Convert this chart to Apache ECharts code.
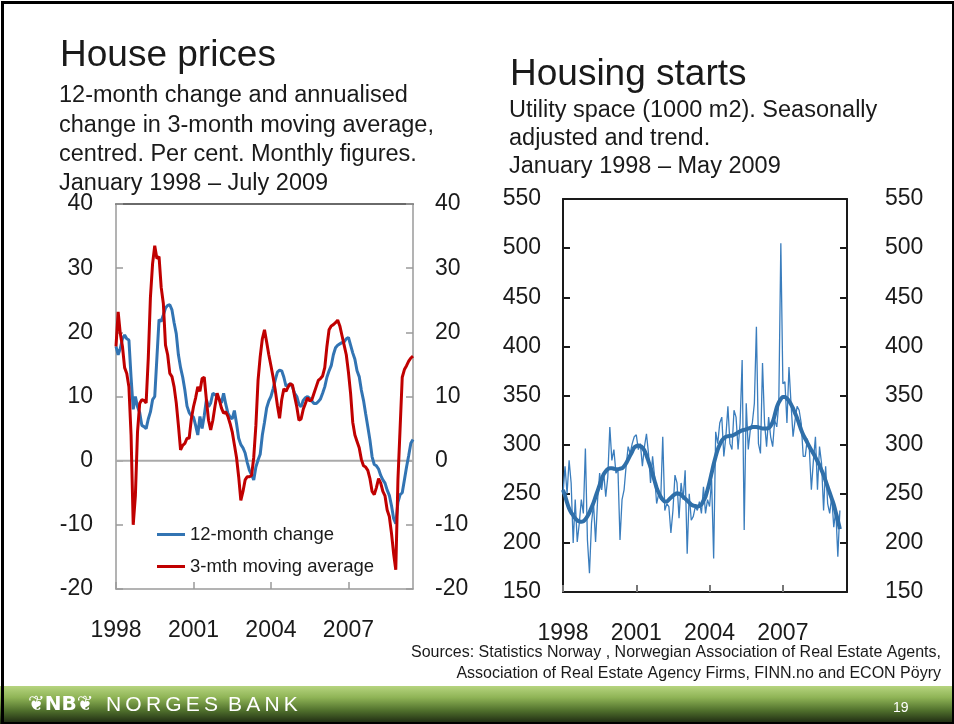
<!DOCTYPE html>
<html>
<head>
<meta charset="utf-8">
<script src="https://cdn.jsdelivr.net/npm/echarts@6/dist/echarts.min.js"></script>
<style>
html,body{margin:0;padding:0;background:#fff;}
#c{width:954px;height:724px;}
</style>
</head>
<body>
<div id="c"></div>
<script>
// ---- Data ----
const yearLabels = ['1998', '2001', '2004', '2007'];
const seriesNames = ['12-month change', '3-mth moving average'];

// House prices, Jan 1998 - Jul 2009, per cent
const change12m = [
  17.8, 16.5, 17.5, 19.0, 19.6, 19.0, 18.8, 13.0, 8.0, 10.0, 8.4, 7.5,
  5.5, 5.3, 5.0, 6.5, 7.6, 9.5, 10.0, 16.0, 22.0, 21.7, 22.7, 23.8,
  24.2, 24.3, 23.5, 21.5, 19.8, 16.5, 14.5, 13.0, 11.0, 8.5, 7.5, 7.0,
  6.8, 5.5, 4.0, 6.9, 5.0, 7.0, 9.5, 8.4, 9.0, 10.5, 10.3, 10.0,
  9.5, 9.0, 10.5, 8.8, 7.4, 6.8, 6.5, 7.8, 5.8, 3.5, 2.5, 2.0,
  1.2, -0.3, -1.5, -2.2, -3.0, -1.0, 0.1, 1.0, 4.0, 6.0, 8.2, 9.3,
  10.0, 11.2, 12.6, 13.8, 14.1, 14.0, 13.0, 11.6, 11.8, 12.0, 11.5, 10.5,
  10.0, 8.8, 8.4, 9.4, 9.8, 10.0, 9.7, 9.3, 8.9, 8.9, 9.2, 9.6,
  10.5, 11.5, 13.0, 14.0, 14.8, 16.5, 17.6, 18.0, 18.2, 18.4, 18.5, 19.0,
  19.2, 18.0, 16.8, 15.8, 14.0, 13.1, 11.0, 9.4, 7.3, 5.3, 3.2, 0.6,
  -0.6, -0.8, -1.3, -2.3, -3.0, -3.5, -4.6, -5.4, -7.0, -9.0, -9.8, -6.5,
  -5.3, -5.0, -3.0, -1.0, 0.8, 2.7, 3.3
];
const ma3m = [
  17.8, 23.2, 19.8, 17.8, 14.5, 13.6, 11.5, 4.0, -10.0, -5.5, 4.5, 8.9,
  9.5, 9.4, 9.0, 16.0, 25.5, 30.7, 33.5, 31.5, 31.8, 27.0, 24.5, 18.0,
  16.5, 13.6, 13.1, 11.5, 9.0, 5.5, 1.7, 2.4, 2.7, 3.5, 3.5, 6.5,
  8.4, 9.8, 11.5, 10.8, 12.8, 13.0, 9.5, 6.3, 4.8, 6.3, 8.5, 10.5,
  9.5, 8.2, 7.4, 7.6, 6.9, 5.8, 4.5, 2.5, 0.5, -2.5, -6.2, -4.8,
  -3.0, -2.5, -2.5, -2.3, 0.5, 5.5, 12.5, 16.2, 19.0, 20.4, 18.5, 16.5,
  14.8, 13.0, 11.0, 8.6, 6.6, 9.5, 11.2, 10.8, 11.5, 12.0, 11.8, 10.0,
  8.4, 6.3, 6.5, 8.0, 8.9, 9.8, 9.3, 9.5, 10.5, 11.5, 12.5, 12.8,
  13.2, 14.5, 17.8, 20.4, 21.0, 21.2, 21.5, 21.9, 21.0, 19.5, 18.0, 16.5,
  13.8, 10.5, 6.0, 4.0, 3.0, 2.0, 0.2, -0.8, -1.0, -1.5, -2.8, -4.8,
  -5.3, -4.2, -2.8, -3.5, -4.8, -5.5, -7.7, -8.7, -11.3, -14.5, -17.0, -3.0,
  5.0, 13.0, 14.2, 14.8, 15.5, 16.0, 16.3
];

// Housing starts, utility space (1000 m2), Jan 1998 - May 2009
const startsSA = [
  250, 278, 250, 284, 261, 200, 244, 201, 220, 244, 230, 296,
  203, 169, 220, 240, 201, 244, 271, 254, 271, 247, 267, 318,
  284, 295, 271, 274, 203, 244, 254, 278, 298, 291, 301, 308,
  310, 295, 301, 278, 298, 311, 291, 261, 288, 267, 240, 250,
  244, 308, 233, 240, 237, 210, 233, 269, 261, 225, 261, 244,
  274, 189, 250, 223, 227, 237, 233, 242, 230, 257, 230, 244,
  237, 264, 184, 313, 301, 322, 328, 288, 308, 339, 301, 295,
  335, 328, 295, 322, 386, 213, 342, 295, 315, 322, 342, 420,
  301, 291, 383, 322, 298, 328, 308, 298, 325, 318, 342, 505,
  362, 364, 322, 379, 342, 308, 325, 339, 335, 322, 288, 288,
  306, 295, 254, 284, 308, 254, 298, 281, 233, 278, 240, 230,
  247, 216, 233, 186, 233
];
const startsTrend = [
  254, 248, 241, 235, 231, 228, 225, 223, 222, 221.5, 222, 224,
  227, 231, 236, 241, 247, 253, 259, 265, 270, 273, 275, 276,
  276, 275.5, 275, 275, 275.5, 276, 278, 281, 285, 289, 293, 297,
  298.5, 299, 298.5, 297, 294, 289, 283, 277, 270, 263, 256, 251,
  247, 244, 242, 242, 244, 246, 248, 249.5, 250.5, 250, 249, 247,
  245, 243, 241, 239, 238, 237.5, 237, 237.5, 239, 243, 247, 254,
  262, 271, 280, 288, 295, 300, 304, 306.5, 308, 308.5, 309, 309,
  310, 311, 312.5, 313.5, 314.5, 315, 315.5, 316.5, 317, 318, 318, 318,
  317.5, 317, 316.5, 316.5, 316.5, 317, 319, 323, 330, 338, 343, 346.5,
  348.5, 348.5, 347, 344.5, 341, 337, 332, 327, 321, 315, 310, 306,
  302, 298, 294.5, 291, 287, 283, 279, 274, 269, 263, 257, 251,
  245, 239, 231, 223, 214
];

// ---- Chart ----
const FONT = '"Liberation Sans", Arial, Helvetica, sans-serif';
const TXT = '#1a1a1a';
const BLUE = '#3274b3';
const RED = '#c00000';
const toPairs = arr => arr.map((v, i) => [i, v]);
const yearFmt = v => (v % 36 === 0 && yearLabels[v / 36]) ? yearLabels[v / 36] : '';

const chart = echarts.init(document.getElementById('c'), null, {renderer: 'canvas'});

const baseLabel = {color: TXT, fontFamily: FONT, fontSize: 23};
const grayLine = {color: '#9a9a9a', width: 1.5};
const darkLine = {color: '#1a1a1a', width: 2};

function xAx(grid, max, pos, line, tick, labelMargin) {
  const a = {
    gridIndex: grid, type: 'value', position: pos, min: 0, max: max, interval: 36,
    axisLine: {show: true, onZero: false, lineStyle: line},
    splitLine: {show: false}
  };
  if (tick) {
    a.axisTick = {show: true, inside: true, length: 7, lineStyle: tick};
    a.axisLabel = Object.assign({}, baseLabel, {margin: labelMargin, formatter: yearFmt, showMaxLabel: false});
  } else {
    a.axisTick = {show: false};
    a.axisLabel = {show: false};
  }
  return a;
}
function yAx(grid, min, max, step, pos, line, tick, labelMargin) {
  return {
    gridIndex: grid, type: 'value', position: pos, min: min, max: max, interval: step,
    axisLine: {show: true, onZero: false, lineStyle: line},
    axisTick: {show: true, inside: true, length: 7, lineStyle: tick},
    axisLabel: Object.assign({}, baseLabel, {margin: labelMargin}),
    splitLine: {show: false}
  };
}

const option = {
  backgroundColor: '#ffffff',
  animation: false,
  textStyle: {fontFamily: FONT},
  grid: [
    {left: 116, top: 204, width: 297, height: 385},
    {left: 563, top: 199, width: 284, height: 393}
  ],
  legend: {
    data: seriesNames,
    orient: 'vertical',
    left: 152,
    top: 520,
    icon: 'rect',
    itemWidth: 28,
    itemHeight: 3,
    itemGap: 13,
    textStyle: {color: TXT, fontSize: 18.5, fontFamily: FONT},
    selectedMode: false
  },
  xAxis: [
    xAx(0, 138, 'bottom', grayLine, grayLine, 30),
    xAx(0, 138, 'top', {color: '#3a3a3a', width: 1.5}, null),
    xAx(1, 139.5, 'bottom', darkLine, {color: '#777', width: 2}, 30),
    xAx(1, 139.5, 'top', darkLine, null)
  ],
  yAxis: [
    yAx(0, -20, 40, 10, 'left', grayLine, grayLine, 23),
    yAx(0, -20, 40, 10, 'right', grayLine, grayLine, 22),
    yAx(1, 150, 550, 50, 'left', darkLine, darkLine, 22),
    yAx(1, 150, 550, 50, 'right', darkLine, darkLine, 38)
  ],
  series: [
    {
      name: 'zero', type: 'line', xAxisIndex: 0, yAxisIndex: 0, z: 1,
      data: [[0, 0], [138, 0]], symbol: 'none', silent: true,
      lineStyle: {color: '#aaaaaa', width: 2}
    },
    {
      name: seriesNames[0], type: 'line', xAxisIndex: 0, yAxisIndex: 0, z: 3,
      data: toPairs(change12m), symbol: 'none', color: BLUE,
      lineStyle: {color: BLUE, width: 3}
    },
    {
      name: seriesNames[1], type: 'line', xAxisIndex: 0, yAxisIndex: 0, z: 4,
      data: toPairs(ma3m), symbol: 'none', color: RED,
      lineStyle: {color: RED, width: 3}
    },
    {
      name: 'Seasonally adjusted', type: 'line', xAxisIndex: 2, yAxisIndex: 2, z: 3,
      data: toPairs(startsSA), symbol: 'none',
      lineStyle: {color: '#3a7dbd', width: 1.3}
    },
    {
      name: 'Trend', type: 'line', xAxisIndex: 2, yAxisIndex: 2, z: 4,
      data: toPairs(startsTrend), symbol: 'none', smooth: 0.3,
      lineStyle: {color: '#2f6fa9', width: 4}
    }
  ],
  graphic: [
    {type: 'text', left: 60, top: 37, style: {text: 'House prices', fill: TXT, font: '37px ' + FONT}},
    {type: 'text', left: 59, top: 84, style: {text: '12-month change and annualised', fill: TXT, font: '23.5px ' + FONT}},
    {type: 'text', left: 59, top: 113.5, style: {text: 'change in 3-month moving average,', fill: TXT, font: '23.5px ' + FONT}},
    {type: 'text', left: 59, top: 143, style: {text: 'centred. Per cent. Monthly figures.', fill: TXT, font: '23.5px ' + FONT}},
    {type: 'text', left: 59, top: 172, style: {text: 'January 1998 \u2013 July 2009', fill: TXT, font: '23.5px ' + FONT}},
    {type: 'text', left: 510, top: 56, style: {text: 'Housing starts', fill: TXT, font: '37px ' + FONT}},
    {type: 'text', left: 509, top: 99, style: {text: 'Utility space (1000 m2). Seasonally', fill: TXT, font: '23.5px ' + FONT}},
    {type: 'text', left: 509, top: 127, style: {text: 'adjusted and trend.', fill: TXT, font: '23.5px ' + FONT}},
    {type: 'text', left: 509, top: 155, style: {text: 'January 1998 \u2013 May 2009', fill: TXT, font: '23.5px ' + FONT}},
    {type: 'text', right: 13, top: 645, style: {text: 'Sources: Statistics Norway , Norwegian Association of Real Estate Agents,', fill: TXT, font: '16px ' + FONT, align: 'right'}},
    {type: 'text', right: 13, top: 666, style: {text: 'Association of Real Estate Agency Firms, FINN.no and ECON P\u00f6yry', fill: TXT, font: '16px ' + FONT, align: 'right'}},
    {
      type: 'rect', left: 0, top: 686, z: 10,
      shape: {width: 954, height: 38},
      style: {fill: new echarts.graphic.LinearGradient(0, 0, 0, 1, [
        {offset: 0, color: '#b6d47f'},
        {offset: 0.3, color: '#8fb456'},
        {offset: 0.65, color: '#4f6f2c'},
        {offset: 1, color: '#1a2410'}
      ])}
    },
    {type: 'text', left: 28, top: 695, z: 11, style: {text: '\u2766NB\u2766', fill: '#ffffff', font: 'bold 20px "DejaVu Sans", sans-serif'}},
    {type: 'text', left: 106, top: 695, z: 11, style: {text: 'N\u2009O\u2009R\u2009G\u2009E\u2009S\u2009 B\u2009A\u2009N\u2009K', fill: '#ffffff', font: '21px ' + FONT}},
    {type: 'text', left: 893, top: 701, z: 11, style: {text: '19', fill: '#ffffff', font: '14px ' + FONT}},
    {
      type: 'rect', left: 0, top: 0, z: 12, silent: true,
      shape: {x: 1.5, y: 1.5, width: 951, height: 721},
      style: {fill: 'none', stroke: '#000', lineWidth: 3}
    }
  ]
};

chart.setOption(option);
</script>
</body>
</html>
